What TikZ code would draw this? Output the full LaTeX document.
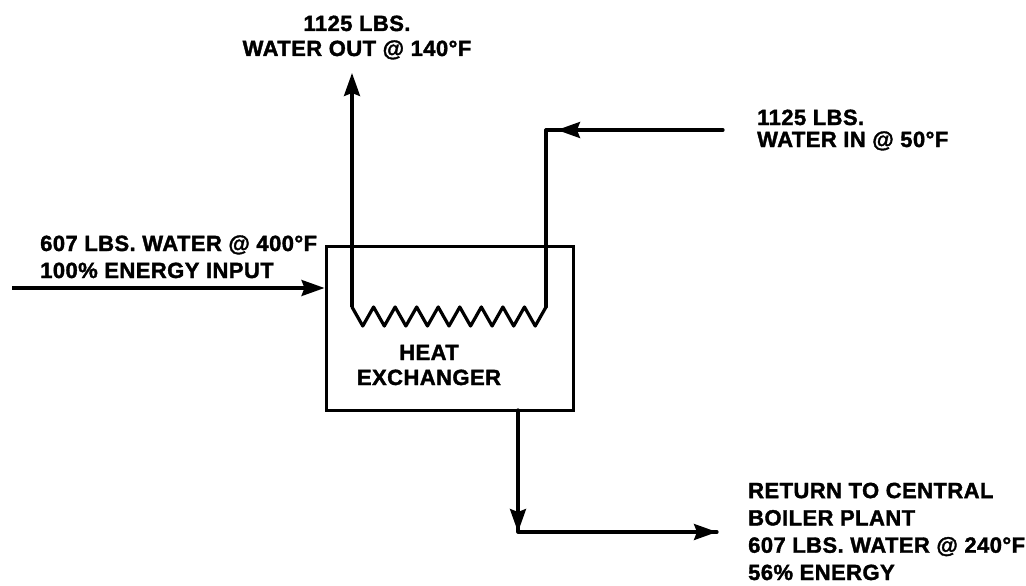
\documentclass[tikz,border=0pt]{standalone}
\usepackage{fontspec}
\setmainfont{Liberation Sans}[LetterSpace=2, BoldFeatures={FakeBold=1.6}]
\usetikzlibrary{arrows.meta}
\begin{document}
\begin{tikzpicture}[x=1pt,y=-1pt,
  pipe/.style={line width=3.2pt, line join=round, line cap=round},
  arr/.style={line width=3.2pt, -{Stealth[length=23pt,width=16pt,inset=3pt]}},
  lbl/.style={font=\fontsize{22}{27}\selectfont\bfseries, inner sep=0pt, align=left, anchor=base west},
  clbl/.style={font=\fontsize{22}{25}\selectfont\bfseries, inner sep=0pt, align=center, anchor=base}]
\useasboundingbox[fill=white] (0,0) rectangle (1026,586);
% heat exchanger box
\node[draw, line width=3pt, minimum width=247pt, minimum height=164pt, inner sep=0pt] (hx) at (449.5,328) {};
\node[clbl] (hxlabel) at (429,385) {HEAT\\EXCHANGER};
% coordinates
\coordinate (lpb) at (352,307);
\coordinate (lpt) at (352,73);
\coordinate (rpb) at (546,307);
\coordinate (rpc) at (546,130);
\coordinate (rin) at (723,130);
\coordinate (rtip) at (557,130);
\coordinate (inL) at (12,288);
\coordinate (bt) at (518,410);
\coordinate (bc) at (518,532);
\coordinate (bout) at (717,532);
% coil
\draw[pipe] (lpb) \foreach \i in {1,...,18} { -- ({352+\i*10.778},{ifthenelse(isodd(\i),326,307)}) };
% left pipe up (water out)
\draw[arr] (lpb) -- (lpt);
% right pipe (water in)
\draw[pipe] (rin) -- (rpc) -- (rpb);
\draw[arr] (rin) -- (rtip);
% hot water input
\draw[arr] (inL) -- (hx.west |- inL);
% return
\draw[pipe] (bt) -- (bc) -- (bout);
\draw[arr] (bt) -- (bc);
\draw[arr] (bc) -- (bout);
% labels
\node[clbl] (outlbl) at (357,56) {1125 LBS.\\WATER OUT @ 140°F};
\node[lbl, font=\fontsize{22}{22}\selectfont\bfseries] (inlbl) at (757,147) {1125 LBS.\\WATER IN @ 50°F};
\node[lbl] (hotlbl) at (40,278) {607 LBS. WATER @ 400°F\\100\% ENERGY INPUT};
\node[lbl, font=\fontsize{22}{27.3}\selectfont\bfseries] (retlbl) at (748,580) {RETURN TO CENTRAL\\BOILER PLANT\\607 LBS. WATER @ 240°F\\56\% ENERGY};
\end{tikzpicture}
\end{document}
